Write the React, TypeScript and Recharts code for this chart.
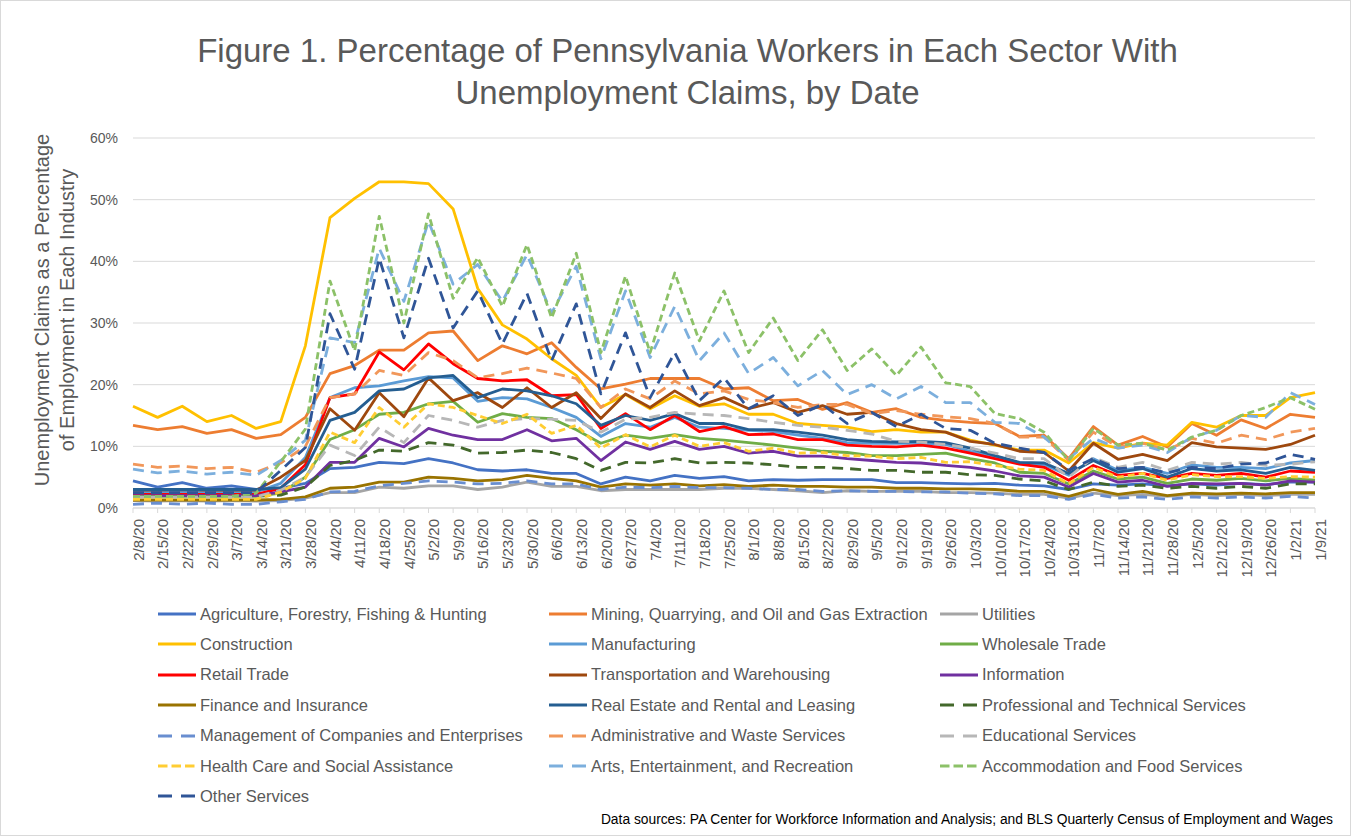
import { LineChart, Line, XAxis, YAxis, CartesianGrid, Legend } from 'recharts';

const FONT = '"Liberation Sans", Arial, sans-serif';
const GRAY_TEXT = '#595959';

const dates = [
  '2/8/20', '2/15/20', '2/22/20', '2/29/20', '3/7/20', '3/14/20', '3/21/20', '3/28/20', '4/4/20', '4/11/20',
  '4/18/20', '4/25/20', '5/2/20', '5/9/20', '5/16/20', '5/23/20', '5/30/20', '6/6/20', '6/13/20', '6/20/20',
  '6/27/20', '7/4/20', '7/11/20', '7/18/20', '7/25/20', '8/1/20', '8/8/20', '8/15/20', '8/22/20', '8/29/20',
  '9/5/20', '9/12/20', '9/19/20', '9/26/20', '10/3/20', '10/10/20', '10/17/20', '10/24/20', '10/31/20', '11/7/20',
  '11/14/20', '11/21/20', '11/28/20', '12/5/20', '12/12/20', '12/19/20', '12/26/20', '1/2/21', '1/9/21',
];

const yTicks = [0, 10, 20, 30, 40, 50, 60];

// percent of employment with claims, one array per sector
const agriculture = [
  4.4, 3.4, 4.1, 3.2, 3.6, 3.0, 3.2, 4.0, 6.4, 6.6, 7.4, 7.2, 8.0, 7.3, 6.2, 6.0, 6.2, 5.6, 5.6, 3.9,
  5.0, 4.4, 5.3, 4.8, 5.1, 4.4, 4.6, 4.5, 4.6, 4.6, 4.6, 4.1, 4.1, 4.0, 3.9, 4.0, 3.7, 3.6, 3.0, 3.9,
  3.7, 3.9, 3.6, 3.9, 3.7, 4.0, 3.8, 4.2, 4.2,
];
const mining = [
  13.4, 12.7, 13.2, 12.1, 12.7, 11.3, 11.9, 14.7, 21.8, 23.1, 25.6, 25.6, 28.4, 28.7, 23.9, 26.3, 25.0, 26.8, 22.8, 19.3,
  20.1, 21.0, 21.0, 21.0, 19.3, 19.5, 17.4, 17.6, 16.0, 17.1, 15.5, 16.1, 14.7, 14.2, 13.9, 13.7, 11.6, 11.8, 8.0, 13.2,
  10.2, 11.6, 9.9, 13.7, 11.8, 14.3, 12.9, 15.2, 14.7,
];
const utilities = [
  1.2, 1.1, 1.2, 1.1, 1.2, 1.1, 1.2, 1.6, 2.5, 2.5, 3.4, 3.2, 3.6, 3.6, 3.0, 3.4, 4.2, 3.5, 3.5, 2.8,
  3.0, 3.0, 3.0, 3.0, 3.2, 3.2, 3.0, 2.8, 2.5, 2.8, 2.7, 2.7, 2.7, 2.5, 2.5, 2.4, 2.2, 2.2, 1.6, 2.4,
  2.0, 2.2, 1.9, 2.2, 2.0, 2.2, 2.0, 2.2, 2.2,
];
const construction = [
  16.5, 14.7, 16.5, 14.0, 15.0, 12.9, 14.0, 26.3, 47.1, 50.2, 52.9, 52.9, 52.6, 48.5, 35.6, 29.7, 27.4, 24.2, 21.5, 16.3,
  18.4, 16.1, 18.2, 16.5, 16.9, 15.2, 15.2, 13.7, 13.4, 13.1, 12.4, 12.7, 12.3, 12.3, 11.0, 10.2, 9.4, 9.4, 7.3, 10.6,
  9.7, 10.5, 10.2, 13.9, 13.1, 15.0, 15.0, 17.9, 18.7,
];
const manufacturing = [
  2.6, 2.6, 2.6, 2.6, 2.6, 2.6, 4.0, 8.2, 17.9, 19.5, 19.8, 20.6, 21.3, 21.1, 17.3, 17.9, 17.7, 16.3, 14.7, 11.6,
  13.7, 13.1, 14.7, 13.1, 12.9, 12.6, 12.4, 11.8, 11.3, 10.6, 10.5, 10.5, 10.5, 10.3, 9.2, 8.4, 7.3, 7.0, 5.3, 8.0,
  6.1, 6.6, 5.6, 7.0, 6.6, 6.6, 6.4, 7.3, 7.7,
];
const wholesale = [
  1.9, 1.9, 1.9, 1.9, 1.9, 1.9, 2.4, 5.0, 11.1, 12.7, 15.2, 15.5, 16.9, 17.3, 13.9, 15.3, 14.7, 14.5, 12.7, 10.5,
  11.8, 11.3, 11.9, 11.3, 11.0, 10.6, 10.2, 9.7, 9.2, 9.0, 8.5, 8.5, 8.7, 8.9, 8.0, 7.3, 5.8, 5.6, 3.9, 6.0,
  4.7, 5.0, 4.0, 4.7, 4.5, 4.8, 4.4, 4.8, 4.5,
];
const retail = [
  2.2, 2.2, 2.2, 2.2, 2.2, 2.2, 3.2, 7.0, 17.9, 18.5, 25.3, 22.4, 26.6, 23.4, 21.0, 20.6, 20.8, 18.2, 18.4, 12.9,
  15.3, 12.7, 15.0, 12.4, 13.2, 11.9, 12.0, 11.1, 11.1, 10.2, 10.0, 9.9, 10.2, 9.7, 8.9, 8.0, 7.1, 6.6, 4.5, 6.9,
  5.3, 5.6, 4.8, 5.6, 5.3, 5.6, 5.0, 6.0, 5.8,
];
const transportation = [
  2.9, 2.9, 3.0, 2.9, 2.9, 2.9, 5.0, 7.7, 16.1, 12.6, 18.7, 14.8, 21.1, 17.4, 18.7, 16.3, 19.5, 16.3, 18.7, 14.5,
  18.5, 16.3, 19.0, 16.6, 17.9, 16.1, 17.1, 15.5, 16.6, 15.2, 15.5, 13.7, 12.7, 12.3, 10.8, 10.3, 9.2, 9.0, 6.0, 10.5,
  7.9, 8.7, 7.7, 10.6, 9.9, 9.7, 9.5, 10.3, 11.8,
];
const information = [
  2.0, 2.0, 2.0, 2.0, 2.0, 2.0, 2.6, 3.4, 7.4, 7.4, 11.3, 9.9, 12.9, 11.8, 11.1, 11.1, 12.7, 10.9, 11.3, 7.7,
  10.7, 9.5, 10.8, 9.5, 10.0, 8.9, 9.2, 8.4, 8.4, 8.0, 7.7, 7.4, 7.3, 6.9, 6.6, 6.0, 5.2, 5.0, 3.4, 5.6,
  4.2, 4.5, 3.5, 4.0, 3.9, 4.0, 3.7, 4.4, 4.2,
];
const finance = [
  1.3, 1.3, 1.3, 1.3, 1.3, 1.3, 1.4, 1.8, 3.2, 3.4, 4.2, 4.2, 5.0, 4.8, 4.4, 4.6, 5.3, 4.8, 4.4, 3.4,
  3.9, 3.7, 3.9, 3.6, 3.8, 3.5, 3.7, 3.5, 3.5, 3.4, 3.4, 3.2, 3.2, 3.1, 3.1, 3.0, 2.7, 2.7, 1.9, 3.0,
  2.2, 2.7, 2.0, 2.4, 2.3, 2.4, 2.3, 2.5, 2.5,
];
const realEstate = [
  3.0, 3.0, 3.0, 3.0, 3.0, 3.0, 3.3, 6.3, 14.2, 15.5, 19.0, 19.3, 21.1, 21.5, 17.9, 19.3, 19.0, 18.2, 16.9, 13.4,
  15.0, 14.2, 15.3, 13.7, 13.7, 12.7, 12.7, 12.3, 11.8, 11.1, 10.8, 10.7, 10.8, 10.6, 9.7, 8.5, 7.4, 7.3, 5.6, 7.7,
  5.8, 6.4, 5.0, 6.4, 6.0, 6.2, 5.6, 6.6, 6.1,
];
const professional = [
  1.9, 1.9, 1.9, 1.9, 1.9, 1.9, 2.1, 3.4, 6.9, 7.7, 9.4, 9.2, 10.6, 10.2, 8.9, 9.0, 9.4, 9.0, 8.0, 6.1,
  7.4, 7.3, 8.0, 7.3, 7.4, 7.3, 7.0, 6.6, 6.6, 6.4, 6.1, 6.1, 5.8, 5.8, 5.4, 5.3, 4.7, 4.4, 3.0, 4.2,
  3.5, 3.7, 3.2, 3.5, 3.2, 3.5, 3.2, 3.9, 3.9,
];
const management = [
  0.6, 0.8, 0.6, 0.8, 0.6, 0.6, 1.0, 1.4, 2.6, 2.7, 3.6, 4.0, 4.4, 4.2, 3.9, 4.0, 4.4, 3.9, 3.9, 3.0,
  3.4, 3.3, 3.5, 3.3, 3.3, 3.2, 3.0, 3.0, 2.7, 2.8, 2.7, 2.7, 2.6, 2.6, 2.4, 2.3, 2.0, 2.0, 1.4, 2.2,
  1.6, 1.8, 1.4, 1.8, 1.6, 1.8, 1.6, 1.9, 1.6,
];
const administrative = [
  7.1, 6.6, 6.8, 6.4, 6.6, 5.8, 7.3, 10.0, 17.9, 18.5, 22.3, 21.5, 25.2, 23.9, 21.1, 21.8, 22.7, 21.9, 21.0, 16.3,
  19.3, 17.7, 20.6, 18.5, 19.0, 17.6, 17.1, 16.3, 16.8, 16.8, 15.3, 15.8, 15.2, 14.8, 14.5, 13.7, 11.5, 11.5, 7.7, 12.3,
  9.9, 10.5, 9.4, 11.3, 10.5, 11.8, 11.1, 12.3, 12.9,
];
const educational = [
  1.8, 1.8, 1.8, 1.8, 1.8, 1.8, 2.9, 5.0, 10.2, 8.5, 13.1, 10.6, 15.0, 14.2, 13.1, 14.2, 14.5, 14.4, 14.2, 12.3,
  14.4, 14.7, 15.5, 15.2, 15.0, 14.5, 13.9, 13.4, 13.1, 12.6, 12.0, 10.8, 10.7, 10.3, 9.7, 8.9, 8.0, 8.0, 5.0, 8.2,
  6.6, 7.4, 6.1, 7.4, 7.1, 7.4, 6.9, 7.1, 7.5,
];
const healthCare = [
  1.4, 1.4, 1.4, 1.4, 1.4, 1.4, 2.6, 4.8, 12.3, 10.6, 16.3, 13.1, 16.9, 16.3, 15.0, 13.7, 15.2, 12.1, 13.4, 9.7,
  11.9, 9.9, 11.8, 10.0, 10.6, 9.2, 9.7, 8.9, 9.0, 8.5, 8.4, 8.0, 8.2, 7.4, 7.5, 6.9, 6.3, 6.1, 3.9, 6.6,
  5.0, 5.6, 4.5, 5.4, 5.1, 5.1, 4.8, 5.1, 5.0,
];
const arts = [
  6.3, 5.7, 6.0, 5.5, 5.8, 5.3, 7.7, 11.0, 27.6, 26.8, 42.1, 33.5, 46.5, 36.3, 39.5, 33.5, 41.1, 31.6, 39.2, 24.2,
  35.2, 24.4, 32.7, 23.9, 28.4, 21.8, 24.4, 19.8, 22.3, 18.4, 20.0, 17.7, 19.7, 17.1, 17.1, 13.9, 13.7, 11.5, 8.0, 11.3,
  9.7, 10.2, 9.0, 11.5, 12.6, 15.0, 14.7, 18.7, 16.8,
];
const accommodation = [
  1.9, 1.9, 1.9, 1.9, 1.9, 2.4, 7.5, 12.8, 36.8, 25.5, 47.3, 30.0, 47.7, 34.0, 40.6, 32.7, 42.7, 30.8, 41.3, 25.2,
  37.6, 25.2, 38.1, 27.1, 35.2, 25.2, 30.8, 23.9, 28.9, 22.3, 25.8, 21.5, 26.1, 20.3, 19.7, 15.3, 14.5, 12.3, 7.7, 12.9,
  10.2, 10.5, 9.4, 11.5, 12.6, 15.0, 16.3, 17.9, 16.0,
];
const otherServices = [
  2.5, 2.5, 2.5, 2.5, 2.5, 2.5, 6.1, 9.8, 31.5, 22.5, 40.5, 27.6, 40.5, 29.2, 35.2, 26.6, 34.8, 23.9, 33.1, 18.5,
  28.4, 17.9, 25.2, 17.4, 21.1, 16.1, 18.2, 15.0, 16.8, 13.7, 15.5, 13.2, 15.2, 12.9, 12.6, 10.5, 9.7, 9.0, 6.1, 8.0,
  6.4, 6.6, 5.7, 6.6, 6.4, 7.1, 7.3, 8.7, 7.9,
];

const LONG_DASH = '11 7';
const SHORT_DASH = '7 4';

interface SeriesDef {
  key: string;
  name: string;
  values: number[];
  color: string;
  dash?: 'long' | 'short';
}

// legend order is row-major, three columns
const SERIES: SeriesDef[] = [
  { key: 'agriculture', name: 'Agriculture, Forestry, Fishing & Hunting', values: agriculture, color: '#4472C4' },
  { key: 'mining', name: 'Mining, Quarrying, and Oil and Gas Extraction', values: mining, color: '#ED7D31' },
  { key: 'utilities', name: 'Utilities', values: utilities, color: '#A5A5A5' },
  { key: 'construction', name: 'Construction', values: construction, color: '#FFC000' },
  { key: 'manufacturing', name: 'Manufacturing', values: manufacturing, color: '#5B9BD5' },
  { key: 'wholesale', name: 'Wholesale Trade', values: wholesale, color: '#70AD47' },
  { key: 'retail', name: 'Retail Trade', values: retail, color: '#FF0000' },
  { key: 'transportation', name: 'Transportation and Warehousing', values: transportation, color: '#9E480E' },
  { key: 'information', name: 'Information', values: information, color: '#7030A0' },
  { key: 'finance', name: 'Finance and Insurance', values: finance, color: '#997300' },
  { key: 'realEstate', name: 'Real Estate and Rental and Leasing', values: realEstate, color: '#255E91' },
  { key: 'professional', name: 'Professional and Technical Services', values: professional, color: '#43682B', dash: 'long' },
  { key: 'management', name: 'Management of Companies and Enterprises', values: management, color: '#698ED0', dash: 'long' },
  { key: 'administrative', name: 'Administrative and Waste Services', values: administrative, color: '#F1975A', dash: 'long' },
  { key: 'educational', name: 'Educational Services', values: educational, color: '#B7B7B7', dash: 'long' },
  { key: 'healthCare', name: 'Health Care and Social Assistance', values: healthCare, color: '#FFCD33', dash: 'short' },
  { key: 'arts', name: 'Arts, Entertainment, and Recreation', values: arts, color: '#7CAFDD', dash: 'long' },
  { key: 'accommodation', name: 'Accommodation and Food Services', values: accommodation, color: '#8CC168', dash: 'short' },
  { key: 'otherServices', name: 'Other Services', values: otherServices, color: '#2F5597', dash: 'long' },
];

const chartData = dates.map((date, i) => {
  const row: Record<string, string | number> = { date };
  SERIES.forEach((s) => {
    row[s.key] = s.values[i];
  });
  return row;
});

function lineDash(s: SeriesDef) {
  if (s.dash === 'long') return LONG_DASH;
  if (s.dash === 'short') return SHORT_DASH;
  return undefined;
}

function legendDash(s: SeriesDef) {
  if (s.dash === 'long') return '14 9';
  if (s.dash === 'short') return '9.5 4';
  return undefined;
}

function SectorLegend() {
  return (
    <div style={{ position: 'relative', width: 1351, height: 244, fontFamily: FONT }}>
      {SERIES.map((s, i) => {
        const col = i % 3;
        const row = Math.floor(i / 3);
        return (
          <div
            key={s.key}
            style={{
              position: 'absolute',
              left: 158 + col * 391,
              top: 7 + row * 30.4,
              height: 30,
              display: 'flex',
              alignItems: 'center',
              whiteSpace: 'nowrap',
            }}
          >
            <svg width={38} height={6} style={{ display: 'block' }}>
              <line x1={0} y1={3} x2={38} y2={3} stroke={s.color} strokeWidth={3} strokeDasharray={legendDash(s)} />
            </svg>
            <span style={{ marginLeft: 4, fontSize: 16.5, color: GRAY_TEXT }}>{s.name}</span>
          </div>
        );
      })}
      <div style={{ position: 'absolute', right: 18, top: 220, fontSize: 13.8, color: '#000', whiteSpace: 'nowrap' }}>
        Data sources: PA Center for Workforce Information and Analysis; and BLS Quarterly Census of Employment and Wages
      </div>
    </div>
  );
}

export default function App() {
  return (
    <div
      style={{
        position: 'absolute',
        left: 0,
        top: 0,
        width: 1351,
        height: 836,
        background: '#fff',
        fontFamily: FONT,
      }}
    >
      <div
        style={{
          position: 'absolute',
          left: 0,
          top: 30,
          width: 1375,
          textAlign: 'center',
          fontSize: 33,
          lineHeight: '42px',
          color: GRAY_TEXT,
        }}
      >
        Figure 1. Percentage of Pennsylvania Workers in Each Sector With
        <br />
        Unemployment Claims, by Date
      </div>
      <div
        style={{
          position: 'absolute',
          left: 55 - 220,
          top: 310 - 25,
          width: 440,
          height: 50,
          transform: 'rotate(-90deg)',
          textAlign: 'center',
          fontSize: 20,
          lineHeight: '25px',
          color: GRAY_TEXT,
          whiteSpace: 'nowrap',
        }}
      >
        Unemployment Claims as a Percentage
        <br />
        of Employment in Each Industry
      </div>
      <LineChart
        width={1351}
        height={836}
        data={chartData}
        margin={{ top: 138, right: 36, left: 80, bottom: 0 }}
      >
        <CartesianGrid vertical={false} stroke="#d9d9d9" strokeWidth={1} />
        <XAxis
          dataKey="date"
          interval={0}
          height={84}
          tickSize={5}
          tickMargin={6}
          angle={-90}
          textAnchor="end"
          axisLine={{ stroke: '#d9d9d9' }}
          tickLine={{ stroke: '#d9d9d9' }}
          tick={{ fill: GRAY_TEXT, fontSize: 15, fontFamily: FONT }}
        />
        <YAxis
          domain={[0, 60]}
          ticks={yTicks}
          width={53}
          axisLine={false}
          tickLine={false}
          tickMargin={9}
          tickFormatter={(v: number) => `${v}%`}
          tick={{ fill: GRAY_TEXT, fontSize: 14, fontFamily: FONT }}
        />
        <Legend
          verticalAlign="bottom"
          width={1351}
          wrapperStyle={{ left: 0, bottom: 0 }}
          content={() => <SectorLegend />}
        />
        {SERIES.map((s) => (
          <Line
            key={s.key}
            type="linear"
            dataKey={s.key}
            name={s.name}
            stroke={s.color}
            strokeWidth={2.8}
            strokeDasharray={lineDash(s)}
            strokeLinejoin="round"
            dot={false}
            activeDot={false}
            isAnimationActive={false}
          />
        ))}
      </LineChart>
      <div
        style={{
          position: 'absolute',
          left: 0,
          top: 0,
          width: 1351,
          height: 836,
          boxSizing: 'border-box',
          border: '1px solid #d9d9d9',
          pointerEvents: 'none',
        }}
      />
    </div>
  );
}
